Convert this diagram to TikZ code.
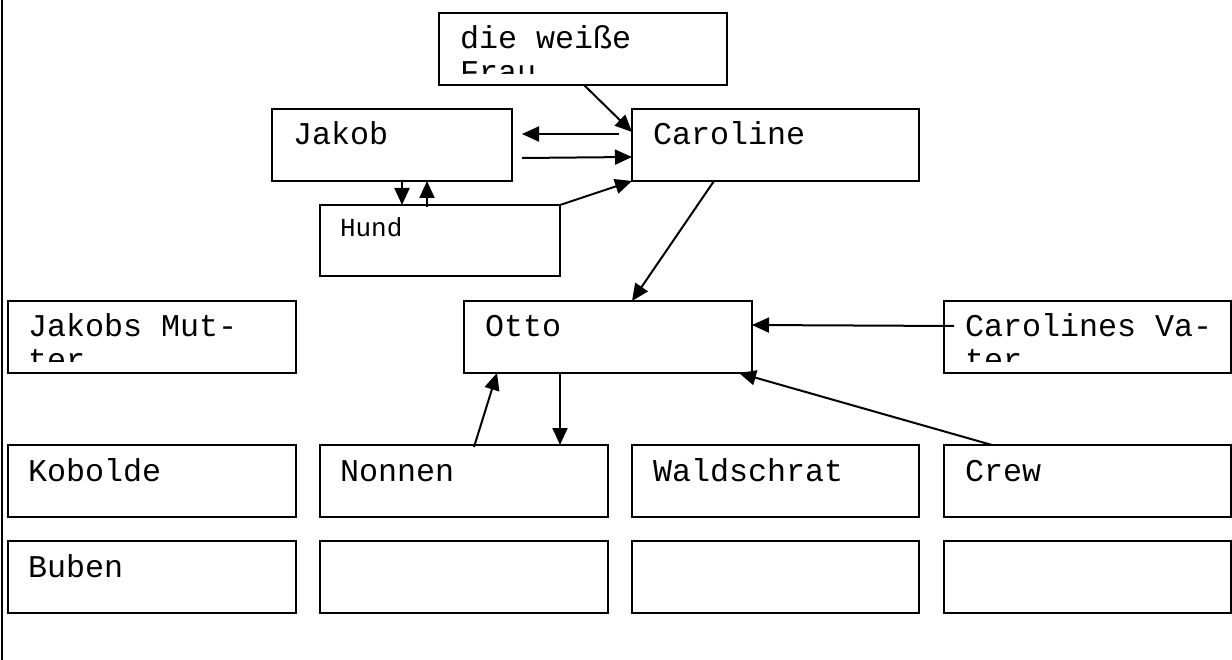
\documentclass[tikz,border=0pt]{standalone}
\usepackage{fontspec}
\setmonofont{Liberation Mono}
\usetikzlibrary{arrows.meta,calc}
\tikzset{
  box/.style={draw, line width=2.2pt, minimum width=#1, minimum height=72pt, inner sep=0pt, outer sep=0pt},
  box/.default=288pt,
  lbl/.style={anchor=base west, inner sep=0pt, outer sep=0pt, font=\fontsize{31.7}{34}\ttfamily},
  small/.style={anchor=base west, inner sep=0pt, outer sep=0pt, font=\fontsize{26}{30}\ttfamily},
  con/.style={line width=2pt, -{Triangle[length=17pt,width=15pt]}},
}
\newcommand{\twolines}[2]{\begin{tabular}[t]{@{}l@{}}#1\\#2\end{tabular}}
\begin{document}
\begin{tikzpicture}[x=1pt,y=-1pt]
\useasboundingbox (0,0) rectangle (1232,660);
\draw[line width=2.2pt] (2,0) -- (2,660);
% boxes
\node[box] (frau) at (583,49) {};
\node[box=240pt] (jakob) at (392,145) {};
\node[box=287pt] (caroline) at (775.5,145) {};
\node[box=240pt, minimum height=71pt] (hund) at (440,240.5) {};
\node[box] (mutter) at (152,337) {};
\node[box] (otto) at (608,337) {};
\node[box=287pt] (vater) at (1087.5,337) {};
\node[box] (kobolde) at (152,481) {};
\node[box] (nonnen) at (464,481) {};
\node[box=287pt] (wald) at (775.5,481) {};
\node[box=287pt] (crew) at (1087.5,481) {};
\node[box] (buben) at (152,577) {};
\node[box] (leer2) at (464,577) {};
\node[box=287pt] (leer3) at (775.5,577) {};
\node[box=287pt] (leer4) at (1087.5,577) {};
% texts
\begin{scope}
\clip ($(frau.north west)+(2,2)$) rectangle ($(frau.south east)+(-2,-11)$);
\node[lbl] (tfrau) at ($(frau.north west)+(21,36)$) {\twolines{die weiße}{Frau}};
\end{scope}
\begin{scope}
\clip ($(mutter.north west)+(2,2)$) rectangle ($(mutter.south east)+(-2,-11)$);
\node[lbl] (tmutter) at ($(mutter.north west)+(20,36)$) {\twolines{Jakobs Mut-}{ter}};
\end{scope}
\begin{scope}
\clip ($(vater.north west)+(2,2)$) rectangle ($(vater.south east)+(-2,-11)$);
\node[lbl] (tvater) at ($(vater.north west)+(21,36)$) {\twolines{Carolines Va-}{ter}};
\end{scope}
\node[lbl] (tjakob) at ($(jakob.north west)+(21,36)$) {Jakob};
\node[lbl] (tcaroline) at ($(caroline.north west)+(21,36)$) {Caroline};
\node[small] (thund) at ($(hund.north west)+(20,32)$) {Hund};
\node[lbl] (totto) at ($(otto.north west)+(21,36)$) {Otto};
\node[lbl] (tkobolde) at ($(kobolde.north west)+(20,36)$) {Kobolde};
\node[lbl] (tnonnen) at ($(nonnen.north west)+(20,36)$) {Nonnen};
\node[lbl] (twald) at ($(wald.north west)+(21,36)$) {Waldschrat};
\node[lbl] (tcrew) at ($(crew.north west)+(21,36)$) {Crew};
\node[lbl] (tbuben) at ($(buben.north west)+(20,36)$) {Buben};
% connectors
\draw[con] ($(frau.south west)+(145,0)$) -- ($(caroline.north west)+(0,23)$);
\draw[con] ($(caroline.north west)+(-13,25)$) -- ($(jakob.north east)+(10,25)$);
\draw[con] ($(jakob.north east)+(10,49)$) -- ($(caroline.north west)+(0,48)$);
\draw[con] (hund.north east) -- (caroline.south west);
\draw[con] ($(jakob.south west)+(130,0)$) -- ($(hund.north west)+(82,0)$);
\draw[con] ($(hund.north west)+(107,2)$) -- ($(jakob.south west)+(155,0)$);
\draw[con] ($(caroline.south west)+(82,0)$) -- ($(otto.north west)+(168,0)$);
\draw[con] ($(vater.north west)+(10,25)$) -- ($(otto.north east)+(0,24)$);
\draw[con] ($(crew.north west)+(48,0)$) -- ($(otto.south east)+(-13,0)$);
\draw[con] ($(nonnen.north west)+(154,2)$) -- ($(otto.south west)+(33,0)$);
\draw[con] ($(otto.south west)+(96,0)$) -- ($(nonnen.north west)+(240,0)$);
\end{tikzpicture}
\end{document}
